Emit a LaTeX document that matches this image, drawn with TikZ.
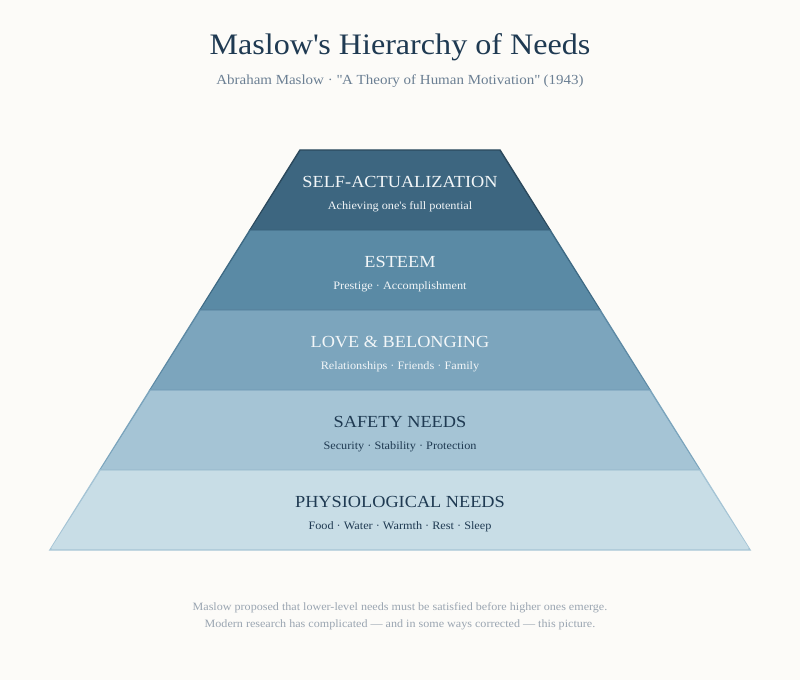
\documentclass[tikz,border=0pt]{standalone}
\usepackage{fontspec}
\setmainfont[FakeStretch=1.08]{Liberation Serif}
\definecolor{bg}{HTML}{FCFBF8}
\definecolor{titlec}{HTML}{1F3A52}
\definecolor{subc}{HTML}{6B7F93}
\definecolor{footc}{HTML}{9AA5B1}
\definecolor{fa}{HTML}{3D6680}\definecolor{sa}{HTML}{2C4A5E}
\definecolor{fb}{HTML}{5A8AA5}\definecolor{sb}{HTML}{3F6B85}
\definecolor{fc}{HTML}{7CA5BD}\definecolor{sc}{HTML}{5E8AA5}
\definecolor{fd}{HTML}{A5C4D5}\definecolor{sd}{HTML}{7CA5BD}
\definecolor{fe}{HTML}{C8DDE6}\definecolor{se}{HTML}{A5C4D5}
\definecolor{lighttext}{HTML}{F2F6F8}
\tikzset{
  band/.style={line width=1.1pt, line join=miter},
  lvl/.style={anchor=base, inner sep=0pt, font=\fontsize{12.7}{15}\selectfont},
  lvlsub/.style={anchor=base, inner sep=0pt, font=\fontsize{8.5}{10}\selectfont},
}
\begin{document}
\begin{tikzpicture}[x=0.75pt,y=-0.75pt]
\fill[bg] (0,0) rectangle (800,680);
\useasboundingbox (0,0) rectangle (800,680);
\node[anchor=base, inner sep=0pt, text=titlec, font=\fontsize{22.3}{27}\selectfont] (title) at (400,55) {Maslow\textquotesingle s Hierarchy of Needs};
\node[anchor=base, inner sep=0pt, text=subc, font=\fontsize{10.4}{12}\selectfont] (subtitle) at (400,85) {Abraham Maslow · \textquotedbl A Theory of Human Motivation\textquotedbl\ (1943)};
% bands
\draw[band, fill=fa, draw=sa] (300,150) -- (500,150) -- (550,230) -- (250,230) -- cycle;
\draw[band, fill=fb, draw=sb] (250,230) -- (550,230) -- (600,310) -- (200,310) -- cycle;
\draw[band, fill=fc, draw=sc] (200,310) -- (600,310) -- (650,390) -- (150,390) -- cycle;
\draw[band, fill=fd, draw=sd] (150,390) -- (650,390) -- (700,470) -- (100,470) -- cycle;
\draw[band, fill=fe, draw=se] (100,470) -- (700,470) -- (750,550) -- (50,550) -- cycle;
% redraw the upper fills over shared edges
\fill[fa] (301,151.5) -- (499,151.5) -- (549,229.2) -- (251,229.2) -- cycle;
\fill[fb] (251,230.8) -- (549,230.8) -- (599,309.2) -- (201,309.2) -- cycle;
\fill[fc] (201,310.8) -- (599,310.8) -- (649,389.2) -- (151,389.2) -- cycle;
\fill[fd] (151,390.8) -- (649,390.8) -- (699,469.2) -- (101,469.2) -- cycle;
\fill[fe] (101,470.8) -- (699,470.8) -- (749,548.5) -- (51,548.5) -- cycle;
% labels
\node[lvl, text=lighttext] (l1) at (400,188) {SELF-ACTUALIZATION};
\node[lvlsub, text=lighttext] (s1) at (400,210) {Achieving one\textquotesingle s full potential};
\node[lvl, text=lighttext] (l2) at (400,268) {ESTEEM};
\node[lvlsub, text=lighttext] (s2) at (400,290) {Prestige · Accomplishment};
\node[lvl, text=lighttext] (l3) at (400,348) {LOVE \& BELONGING};
\node[lvlsub, text=lighttext] (s3) at (400,370) {Relationships · Friends · Family};
\node[lvl, text=titlec] (l4) at (400,428) {SAFETY NEEDS};
\node[lvlsub, text=titlec] (s4) at (400,450) {Security · Stability · Protection};
\node[lvl, text=titlec] (l5) at (400,508) {PHYSIOLOGICAL NEEDS};
\node[lvlsub, text=titlec] (s5) at (400,530) {Food · Water · Warmth · Rest · Sleep};
% footer
\node[anchor=base, inner sep=0pt, text=footc, font=\fontsize{8.4}{10}\selectfont] (f1) at (400,610) {Maslow proposed that lower-level needs must be satisfied before higher ones emerge.};
\node[anchor=base, inner sep=0pt, text=footc, font=\fontsize{8.4}{10}\selectfont] (f2) at (400,628) {Modern research has complicated — and in some ways corrected — this picture.};
\end{tikzpicture}
\end{document}
